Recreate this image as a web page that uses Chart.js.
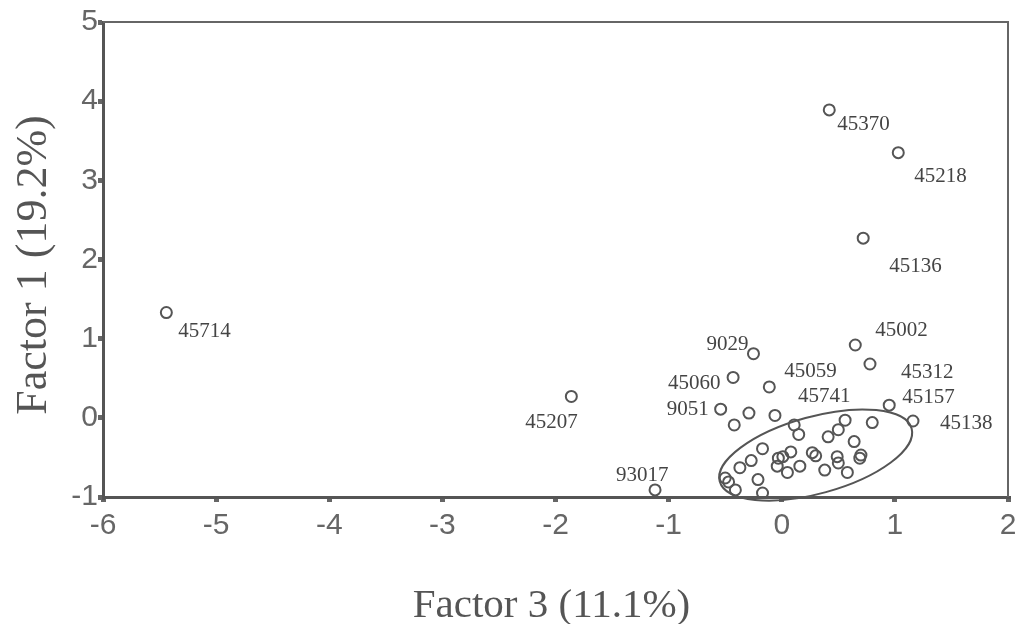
<!DOCTYPE html>
<html>
<head>
<meta charset="utf-8">
<script src="https://cdn.jsdelivr.net/npm/chart.js@4.4.1/dist/chart.umd.min.js"></script>
<style>
html,body{margin:0;padding:0;background:#fff;}
#wrap{width:1029px;height:624px;}
</style>
</head>
<body>
<div id="wrap"><canvas id="c" width="1029" height="624"></canvas></div>
<script>
// Labeled observations
const labelNames = ["45714","45207","93017","45370","45218","45136","45002","9029","45060","45059","45312","45157","45138","9051","45741"];
const labeledX = [-5.44,-1.86,-1.12,0.42,1.03,0.72,0.65,-0.25,-0.43,-0.11,0.78,0.95,1.16,-0.54,-0.06];
const labeledY = [1.33,0.27,-0.91,3.89,3.35,2.27,0.92,0.81,0.51,0.39,0.68,0.16,-0.04,0.11,0.03];
// Unlabeled observations (cluster)
const clusterX = [-0.29,-0.42,0.11,0.56,0.80,0.15,0.50,0.41,0.64,-0.17,0.08,0.01,-0.03,0.27,0.49,0.69,-0.27,-0.37,-0.04,0.16,0.50,0.58,0.38,0.05,-0.50,-0.47,-0.21,-0.41,-0.17,0.30,0.70];
const clusterY = [0.06,-0.09,-0.09,-0.03,-0.06,-0.21,-0.15,-0.24,-0.30,-0.39,-0.43,-0.49,-0.51,-0.44,-0.49,-0.51,-0.54,-0.63,-0.61,-0.61,-0.57,-0.69,-0.66,-0.69,-0.76,-0.81,-0.78,-0.91,-0.95,-0.48,-0.47];
// Axis ticks
const xTicks = [-6,-5,-4,-3,-2,-1,0,1,2];
const yTicks = [-1,0,1,2,3,4,5];
const xTitle = "Factor 3 (11.1%)";
const yTitle = "Factor 1 (19.2%)";
// Ellipse around cluster (data units: center, semi-axes in x-units, rotation)
const ellipseCenter = [0.30,-0.47];
const ellipseAxes = [0.88,0.34];
const ellipseRotation = -0.27;

// label offsets in pixels [dx, dy] (left-aligned text, middle baseline)
const labelOffsets = [[12,19],[-46,26],[-39,-14],[8,15],[16,24],[26,28],[20,-15],[-47,-9],[-65,6],[15,-15],[31,8],[13,-8],[27,2],[-54,0],[23,-19]];

const labeledData = labeledX.map((x,i)=>({x:x,y:labeledY[i]}));
const clusterData = clusterX.map((x,i)=>({x:x,y:clusterY[i]}));

const ink = '#555';
const serif = '"Liberation Serif", "Times New Roman", serif';

const frame = {
  id:'frame',
  afterDraw(chart){
    const {ctx, chartArea:a, scales} = chart;
    ctx.save();
    ctx.strokeStyle = '#666';
    ctx.lineWidth = 2;
    ctx.beginPath();
    ctx.moveTo(a.left, a.top); ctx.lineTo(a.right, a.top); ctx.lineTo(a.right, a.bottom);
    ctx.stroke();
    // ellipse
    const px = scales.x.getPixelForValue(ellipseCenter[0]);
    const py = scales.y.getPixelForValue(ellipseCenter[1]);
    const ppu = scales.x.getPixelForValue(1) - scales.x.getPixelForValue(0);
    ctx.strokeStyle = ink;
    ctx.lineWidth = 2;
    ctx.beginPath();
    ctx.ellipse(px, py, ellipseAxes[0]*ppu, ellipseAxes[1]*ppu, ellipseRotation, 0, Math.PI*2);
    ctx.stroke();
    // labels
    const meta = chart.getDatasetMeta(0);
    ctx.fillStyle = '#444';
    ctx.font = '21px ' + serif;
    ctx.textAlign = 'left';
    ctx.textBaseline = 'middle';
    meta.data.forEach((el,i)=>{
      const o = labelOffsets[i];
      ctx.fillText(labelNames[i], el.x + o[0], el.y + o[1]);
    });
    // axis titles
    ctx.fillStyle = '#555';
    ctx.textAlign = 'center';
    ctx.textBaseline = 'alphabetic';
    ctx.font = '41px ' + serif;
    ctx.fillText(xTitle, (a.left + a.right)/2 - 4, 617);
    ctx.save();
    ctx.translate(46, 265);
    ctx.rotate(-Math.PI/2);
    ctx.font = '44px ' + serif;
    ctx.fillText(yTitle, 0, 0);
    ctx.restore();
    ctx.restore();
  }
};

new Chart(document.getElementById('c'), {
  type:'scatter',
  data:{
    datasets:[
      {data:labeledData, pointStyle:'circle', pointRadius:5.5, pointBorderWidth:2, borderColor:ink, backgroundColor:'rgba(0,0,0,0)'},
      {data:clusterData, pointStyle:'circle', pointRadius:5.5, pointBorderWidth:2, borderColor:ink, backgroundColor:'rgba(0,0,0,0)'}
    ]
  },
  options:{
    responsive:false,
    animation:false,
    events:[],
    layout:{padding:{top:22,right:21,left:0,bottom:0}},
    plugins:{legend:{display:false}, tooltip:{enabled:false}},
    scales:{
      x:{
        type:'linear', min:-6, max:2,
        afterBuildTicks(s){ s.ticks = xTicks.map(v=>({value:v})); },
        afterFit(s){ s.height = 127; },
        ticks:{color:'#666', font:{family:'"Liberation Sans", Arial, sans-serif', size:30}, padding:6},
        grid:{drawOnChartArea:false, tickLength:5, lineWidth:5, color:'#666'},
        border:{color:ink, width:3},
        title:{display:false}
      },
      y:{
        type:'linear', min:-1, max:5,
        afterBuildTicks(s){ s.ticks = yTicks.map(v=>({value:v})); },
        afterFit(s){ s.width = 103; },
        ticks:{color:'#666', font:{family:'"Liberation Sans", Arial, sans-serif', size:30}, padding:0},
        grid:{drawOnChartArea:false, tickLength:5, lineWidth:5, color:'#666'},
        border:{color:ink, width:3},
        title:{display:false}
      }
    }
  },
  plugins:[frame]
});
</script>
</body>
</html>
